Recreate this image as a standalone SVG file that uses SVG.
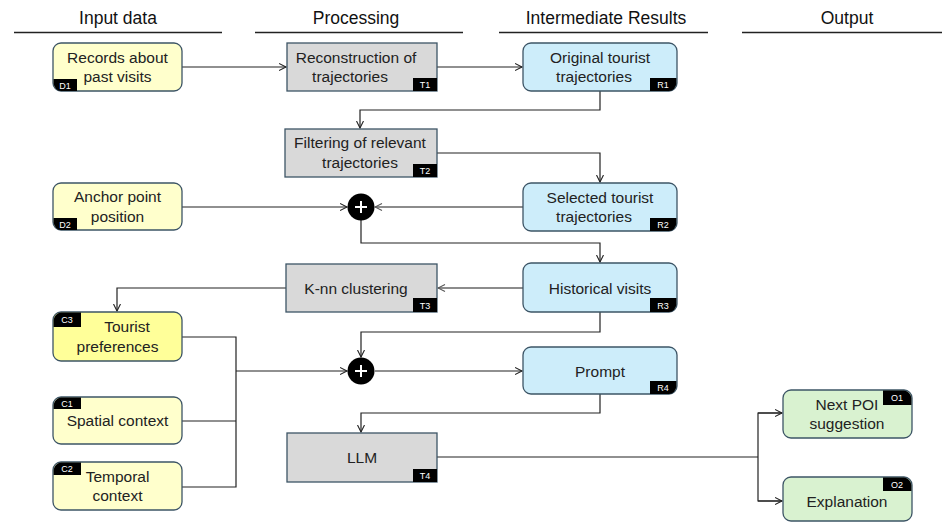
<svg xmlns="http://www.w3.org/2000/svg" width="942" height="522" viewBox="0 0 942 522">
<defs>
<marker id="arr" markerWidth="9" markerHeight="9" refX="7.5" refY="4" orient="auto" markerUnits="userSpaceOnUse">
<path d="M0.5,0.5 L7.5,4 L0.5,7.5" fill="none" stroke="#222" stroke-width="1.1"/>
</marker>
<marker id="arrg" markerWidth="9" markerHeight="9" refX="7.5" refY="4" orient="auto" markerUnits="userSpaceOnUse">
<path d="M0.5,0.5 L7.5,4 L0.5,7.5" fill="none" stroke="#555" stroke-width="1.1"/>
</marker>
</defs>
<style>
.hdr{font-family:"Liberation Sans",Arial,sans-serif;font-size:17.5px;fill:#111;text-anchor:middle}
.hl{stroke:#222;stroke-width:1.6}
.t{font-family:"Liberation Sans",Arial,sans-serif;font-size:15.5px;fill:#222;text-anchor:middle}
.b{font-family:"Liberation Sans",Arial,sans-serif;font-size:9px;fill:#fff;text-anchor:middle}
.box{stroke:#3d5566;stroke-width:1.3}
.y{fill:#FFFFCC}.yy{fill:#FFFF99}.g{fill:#D9D9D9}.bl{fill:#CDEDFA}.gr{fill:#D9F2D0}
.bd{fill:#000}
.c{fill:none;stroke:#222;stroke-width:1.2}
.cg{fill:none;stroke:#666;stroke-width:1.6}
</style>
<rect width="942" height="522" fill="#fff"/>
<g id="headers">
<text class="hdr" x="118" y="24">Input data</text>
<line class="hl" x1="14" y1="32.5" x2="222" y2="32.5"/>
<text class="hdr" x="356" y="24">Processing</text>
<line class="hl" x1="255" y1="32.5" x2="463" y2="32.5"/>
<text class="hdr" x="606" y="24">Intermediate Results</text>
<line class="hl" x1="499" y1="32.5" x2="708" y2="32.5"/>
<text class="hdr" x="847" y="24">Output</text>
<line class="hl" x1="742" y1="32.5" x2="942" y2="32.5"/>
</g>
<g id="connectors">
<path class="c" d="M182,67 H286" marker-end="url(#arr)"/>
<path class="c" d="M437,67 H522" marker-end="url(#arr)"/>
<path class="c" d="M600,91 V110 H360 V128" marker-end="url(#arr)"/>
<path class="c" d="M437,153 H600 V182" marker-end="url(#arr)"/>
<path class="c" d="M182,207 H347" marker-end="url(#arr)"/>
<path class="cg" d="M523,207 H375" marker-end="url(#arrg)"/>
<path class="c" d="M361,220 V243 H600 V262" marker-end="url(#arr)"/>
<path class="cg" d="M523,288 H438" marker-end="url(#arrg)"/>
<path class="c" d="M286,288 H117 V311" marker-end="url(#arr)"/>
<path class="c" d="M182,337 H236 V487 H182"/>
<path class="c" d="M182,421 H236"/>
<path class="c" d="M236,371 H347" marker-end="url(#arr)"/>
<path class="c" d="M600,312 V332 H361 V357" marker-end="url(#arr)"/>
<path class="c" d="M375,371 H522" marker-end="url(#arr)"/>
<path class="c" d="M600,394 V413 H361 V432" marker-end="url(#arr)"/>
<path class="c" d="M437,457 H758"/>
<path class="c" d="M782,413 H758 V501 H782"/>
<path class="c" d="M758,413 H782" marker-end="url(#arr)"/>
<path class="c" d="M758,501 H782" marker-end="url(#arr)"/>
</g>
<g id="D1">
<rect class="box y" x="53" y="43" width="129" height="48" rx="8"/>
<path class="bd" d="M53.6,79 H77 V91 H61 A8 8 0 0 1 53.6 83.6 Z"/>
<text class="b" x="65" y="88.5">D1</text>
<text class="t" x="117.5" y="63">Records about</text>
<text class="t" x="117.5" y="82">past visits</text>
</g>
<g id="T1">
<rect class="box g" x="287" y="43" width="150" height="48"/>
<rect class="bd" x="413" y="78" width="24" height="13"/>
<text class="b" x="425" y="88">T1</text>
<text class="t" x="356" y="63">Reconstruction of</text>
<text class="t" x="350" y="82">trajectories</text>
</g>
<g id="R1">
<rect class="box bl" x="523" y="43" width="154" height="48" rx="8"/>
<path class="bd" d="M650,78 H676.4 V83.6 A8 8 0 0 1 669 91 H650 Z"/>
<text class="b" x="663" y="88">R1</text>
<text class="t" x="600" y="63">Original tourist</text>
<text class="t" x="594" y="82">trajectories</text>
</g>
<g id="T2">
<rect class="box g" x="285" y="129" width="152" height="48"/>
<rect class="bd" x="413" y="164" width="24" height="13"/>
<text class="b" x="425" y="174">T2</text>
<text class="t" x="360" y="148">Filtering of relevant</text>
<text class="t" x="360" y="168">trajectories</text>
</g>
<g id="D2">
<rect class="box y" x="53" y="183" width="129" height="47" rx="8"/>
<path class="bd" d="M53.6,218 H77 V230 H61 A8 8 0 0 1 53.6 222.6 Z"/>
<text class="b" x="65" y="227.5">D2</text>
<text class="t" x="117.5" y="202">Anchor point</text>
<text class="t" x="117.5" y="222">position</text>
</g>
<g id="R2">
<rect class="box bl" x="523" y="183" width="154" height="48" rx="8"/>
<path class="bd" d="M650,218 H676.4 V223.6 A8 8 0 0 1 669 231 H650 Z"/>
<text class="b" x="663" y="228">R2</text>
<text class="t" x="600" y="203">Selected tourist</text>
<text class="t" x="594" y="222">trajectories</text>
</g>
<g id="plus1">
<circle cx="361" cy="207" r="13.5" fill="#000"/>
<path d="M355,207 H367 M361,201 V213" stroke="#fff" stroke-width="2"/>
</g>
<g id="R3">
<rect class="box bl" x="523" y="263" width="154" height="49" rx="8"/>
<path class="bd" d="M650,298 H676.4 V304.6 A8 8 0 0 1 669 312 H650 Z"/>
<text class="b" x="663" y="308.5">R3</text>
<text class="t" x="600" y="293.5">Historical visits</text>
</g>
<g id="T3">
<rect class="box g" x="286" y="264" width="151" height="48"/>
<rect class="bd" x="413" y="298" width="24" height="14"/>
<text class="b" x="425" y="308.5">T3</text>
<text class="t" x="356" y="293.5">K-nn clustering</text>
</g>
<g id="C3">
<rect class="box yy" x="53" y="312" width="129" height="49" rx="8"/>
<path class="bd" d="M53.6,327 H81 V312.6 H61 A8 8 0 0 0 53.6 320 Z"/>
<text class="b" x="67" y="323">C3</text>
<text class="t" x="127" y="332">Tourist</text>
<text class="t" x="117.5" y="352">preferences</text>
</g>
<g id="plus2">
<circle cx="361" cy="371" r="13.5" fill="#000"/>
<path d="M355,371 H367 M361,365 V377" stroke="#fff" stroke-width="2"/>
</g>
<g id="R4">
<rect class="box bl" x="523" y="347" width="154" height="47" rx="8"/>
<path class="bd" d="M650,381 H676.4 V386.6 A8 8 0 0 1 669 394 H650 Z"/>
<text class="b" x="663" y="391">R4</text>
<text class="t" x="600" y="376.5">Prompt</text>
</g>
<g id="C1">
<rect class="box y" x="53" y="397" width="129" height="47" rx="8"/>
<path class="bd" d="M53.6,409 H81 V397.6 H61 A8 8 0 0 0 53.6 405 Z"/>
<text class="b" x="67" y="406.5">C1</text>
<text class="t" x="117.5" y="426">Spatial context</text>
</g>
<g id="T4">
<rect class="box g" x="287" y="433" width="150" height="49"/>
<rect class="bd" x="413" y="469" width="24" height="13"/>
<text class="b" x="425" y="479">T4</text>
<text class="t" x="362" y="463">LLM</text>
</g>
<g id="C2">
<rect class="box y" x="53" y="462" width="129" height="48" rx="8"/>
<path class="bd" d="M53.6,475 H81 V462.6 H61 A8 8 0 0 0 53.6 470 Z"/>
<text class="b" x="67" y="472">C2</text>
<text class="t" x="117.5" y="482">Temporal</text>
<text class="t" x="117.5" y="501">context</text>
</g>
<g id="O1">
<rect class="box gr" x="783" y="390" width="129" height="48" rx="8"/>
<path class="bd" d="M883,390.6 H904 A8 8 0 0 1 911.4 398 V405 H883 Z"/>
<text class="b" x="897" y="401">O1</text>
<text class="t" x="847" y="410">Next POI</text>
<text class="t" x="847" y="429">suggestion</text>
</g>
<g id="O2">
<rect class="box gr" x="783" y="477" width="129" height="44" rx="8"/>
<path class="bd" d="M883,477.6 H904 A8 8 0 0 1 911.4 485 V491 H883 Z"/>
<text class="b" x="897" y="488">O2</text>
<text class="t" x="847" y="507">Explanation</text>
</g>
</svg>
